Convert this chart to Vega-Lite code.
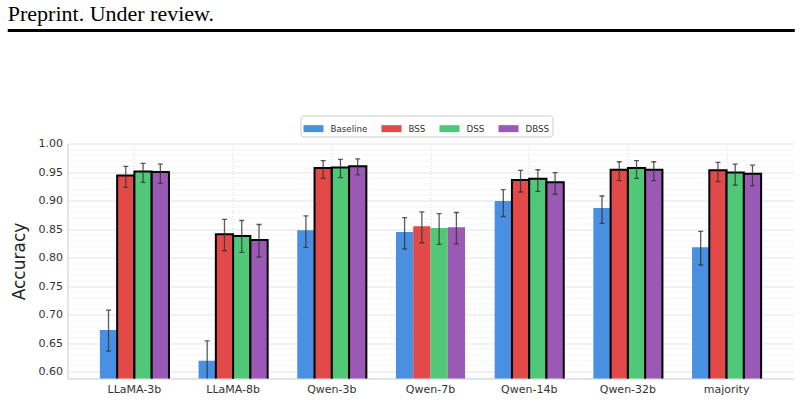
{
  "$schema": "https://vega.github.io/schema/vega-lite/v6.json",
  "background": "white",
  "padding": {"left": 5.5, "top": 0.5, "right": 8, "bottom": 0},
  "autosize": {"type": "pad"},
  "spacing": 81,
  "center": true,
  "config": {
    "view": {"stroke": null},
    "font": "DejaVu Sans",
    "axis": {"labelFont": "DejaVu Sans", "titleFont": "DejaVu Sans", "labelColor": "#333333", "titleColor": "#222222"},
    "legend": {"labelFont": "DejaVu Sans"}
  },
  "resolve": {"legend": {"color": "independent"}},
  "vconcat": [
    {
      "width": 844,
      "height": 1,
      "view": {"stroke": "black", "strokeWidth": 3, "strokeDash": [787, 4000]},
      "title": {"text": "Preprint. Under review.", "anchor": "start", "font": "Liberation Serif", "fontSize": 22, "fontWeight": "normal", "color": "black", "baseline": "alphabetic", "offset": -12},
      "data": {"values": []},
      "mark": "point",
      "encoding": {}
    },
    {
      "width": 726,
      "height": 235,
      "data": {
        "values": [
          {"model": "LLaMA-3b", "method": "Baseline", "acc": 0.673, "lo": 0.636, "hi": 0.708, "sig": false},
          {"model": "LLaMA-3b", "method": "BSS", "acc": 0.944, "lo": 0.923, "hi": 0.960, "sig": true},
          {"model": "LLaMA-3b", "method": "DSS", "acc": 0.951, "lo": 0.932, "hi": 0.965, "sig": true},
          {"model": "LLaMA-3b", "method": "DBSS", "acc": 0.950, "lo": 0.930, "hi": 0.964, "sig": true},
          {"model": "LLaMA-8b", "method": "Baseline", "acc": 0.619, "lo": 0.584, "hi": 0.654, "sig": false},
          {"model": "LLaMA-8b", "method": "BSS", "acc": 0.841, "lo": 0.812, "hi": 0.867, "sig": true},
          {"model": "LLaMA-8b", "method": "DSS", "acc": 0.838, "lo": 0.809, "hi": 0.865, "sig": true},
          {"model": "LLaMA-8b", "method": "DBSS", "acc": 0.831, "lo": 0.801, "hi": 0.858, "sig": true},
          {"model": "Qwen-3b", "method": "Baseline", "acc": 0.848, "lo": 0.818, "hi": 0.873, "sig": false},
          {"model": "Qwen-3b", "method": "BSS", "acc": 0.957, "lo": 0.939, "hi": 0.970, "sig": true},
          {"model": "Qwen-3b", "method": "DSS", "acc": 0.958, "lo": 0.940, "hi": 0.972, "sig": true},
          {"model": "Qwen-3b", "method": "DBSS", "acc": 0.960, "lo": 0.945, "hi": 0.973, "sig": true},
          {"model": "Qwen-7b", "method": "Baseline", "acc": 0.845, "lo": 0.815, "hi": 0.870, "sig": false},
          {"model": "Qwen-7b", "method": "BSS", "acc": 0.855, "lo": 0.826, "hi": 0.880, "sig": false},
          {"model": "Qwen-7b", "method": "DSS", "acc": 0.852, "lo": 0.823, "hi": 0.877, "sig": false},
          {"model": "Qwen-7b", "method": "DBSS", "acc": 0.853, "lo": 0.824, "hi": 0.879, "sig": false},
          {"model": "Qwen-14b", "method": "Baseline", "acc": 0.899, "lo": 0.872, "hi": 0.919, "sig": false},
          {"model": "Qwen-14b", "method": "BSS", "acc": 0.936, "lo": 0.915, "hi": 0.953, "sig": true},
          {"model": "Qwen-14b", "method": "DSS", "acc": 0.938, "lo": 0.916, "hi": 0.954, "sig": true},
          {"model": "Qwen-14b", "method": "DBSS", "acc": 0.932, "lo": 0.911, "hi": 0.949, "sig": true},
          {"model": "Qwen-32b", "method": "Baseline", "acc": 0.887, "lo": 0.860, "hi": 0.908, "sig": false},
          {"model": "Qwen-32b", "method": "BSS", "acc": 0.954, "lo": 0.935, "hi": 0.968, "sig": true},
          {"model": "Qwen-32b", "method": "DSS", "acc": 0.957, "lo": 0.939, "hi": 0.970, "sig": true},
          {"model": "Qwen-32b", "method": "DBSS", "acc": 0.954, "lo": 0.935, "hi": 0.968, "sig": true},
          {"model": "majority", "method": "Baseline", "acc": 0.818, "lo": 0.787, "hi": 0.846, "sig": false},
          {"model": "majority", "method": "BSS", "acc": 0.953, "lo": 0.933, "hi": 0.967, "sig": true},
          {"model": "majority", "method": "DSS", "acc": 0.949, "lo": 0.927, "hi": 0.964, "sig": true},
          {"model": "majority", "method": "DBSS", "acc": 0.947, "lo": 0.926, "hi": 0.962, "sig": true}
        ]
      },
      "resolve": {"axis": {"y": "independent"}},
      "encoding": {
        "x": {
          "field": "model", "type": "nominal", "sort": null,
          "scale": {"paddingInner": 0.3, "paddingOuter": 0.328},
          "axis": {"title": null, "labelAngle": 0, "labelFontSize": 11, "labelPadding": 5, "ticks": false, "domainColor": "#cccccc", "domainWidth": 1, "grid": true, "bandPosition": 0.5, "gridColor": "#cccccc", "gridDash": [1, 2], "gridWidth": 0.8}
        },
        "xOffset": {"field": "method", "type": "nominal", "sort": ["Baseline", "BSS", "DSS", "DBSS"], "scale": {"paddingInner": 0, "paddingOuter": 0}}
      },
      "layer": [
        {
          "mark": {"type": "bar", "clip": true, "strokeWidth": 2},
          "encoding": {
            "y": {
              "field": "acc", "type": "quantitative",
              "scale": {"domain": [0.588, 1.0], "zero": false, "nice": false},
              "axis": {
                "orient": "left",
                "title": "Accuracy", "titleFontSize": 17, "titleFontWeight": "normal", "titlePadding": 10,
                "values": [0.6, 0.65, 0.7, 0.75, 0.8, 0.85, 0.9, 0.95, 1.0],
                "format": ".2f",
                "labelOverlap": false,
                "labelFontSize": 11, "labelPadding": 5, "ticks": false,
                "domainColor": "#cccccc", "domainWidth": 1,
                "grid": true, "gridColor": "#e3e3e3", "gridWidth": 1.2
              }
            },
            "color": {
              "field": "method", "type": "nominal", "sort": ["Baseline", "BSS", "DSS", "DBSS"],
              "scale": {"domain": ["Baseline", "BSS", "DSS", "DBSS"], "range": ["#4a90e2", "#e24a4a", "#50c878", "#9b59b6"]},
              "legend": {
                "title": null, "orient": "none", "direction": "horizontal", "legendX": 233, "legendY": -28,
                "symbolType": "M-1,-0.35L1,-0.35L1,0.35L-1,0.35Z", "symbolSize": 400, "symbolStrokeWidth": 0,
                "labelFontSize": 8.7, "labelColor": "#333333", "labelOffset": 7, "columnPadding": 14,
                "padding": 3, "strokeColor": "#cccccc", "cornerRadius": 3, "fillColor": "white"
              }
            },
            "stroke": {"condition": {"test": "datum.sig", "value": "black"}, "value": null}
          }
        },
        {
          "mark": {"type": "rule", "clip": true, "color": "#333333", "opacity": 0.8, "strokeWidth": 1.3},
          "encoding": {
            "y": {
              "field": "lo", "type": "quantitative",
              "axis": {
                "orient": "right", "title": null, "labels": false, "ticks": false, "domain": false,
                "values": [0.59, 0.61, 0.62, 0.63, 0.64, 0.66, 0.67, 0.68, 0.69, 0.71, 0.72, 0.73, 0.74, 0.76, 0.77, 0.78, 0.79, 0.81, 0.82, 0.83, 0.84, 0.86, 0.87, 0.88, 0.89, 0.91, 0.92, 0.93, 0.94, 0.96, 0.97, 0.98, 0.99],
                "grid": true, "gridColor": "#f2f2f2", "gridWidth": 0.8
              }
            },
            "y2": {"field": "hi"}
          }
        },
        {
          "mark": {"type": "tick", "clip": true, "color": "#333333", "opacity": 0.8, "thickness": 1.3, "size": 5, "orient": "horizontal"},
          "encoding": {
            "y": {"field": "lo", "type": "quantitative", "axis": null}
          }
        },
        {
          "mark": {"type": "tick", "clip": true, "color": "#333333", "opacity": 0.8, "thickness": 1.3, "size": 5, "orient": "horizontal"},
          "encoding": {
            "y": {"field": "hi", "type": "quantitative", "axis": null}
          }
        }
      ]
    }
  ]
}
